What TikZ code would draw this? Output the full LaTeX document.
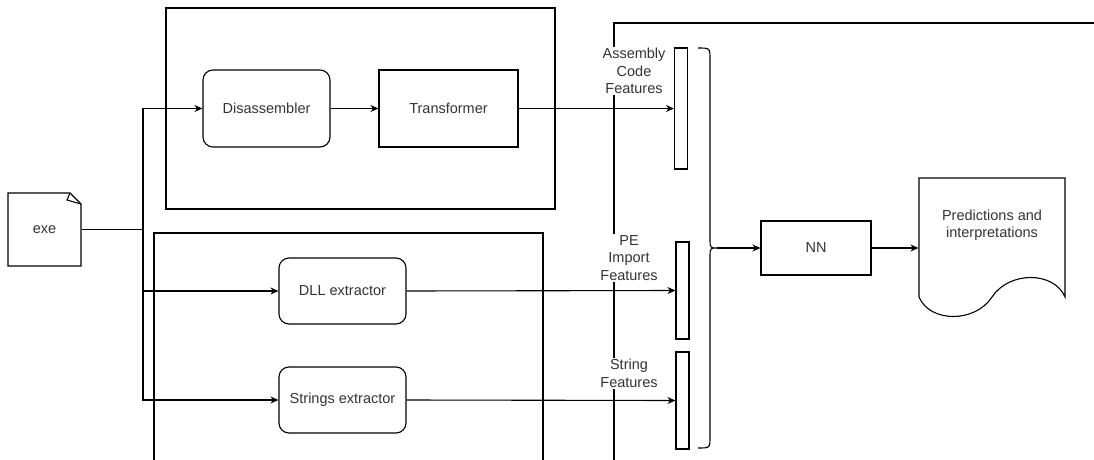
\documentclass[tikz,border=0pt]{standalone}
\usepackage{fontspec}
\setmainfont{Liberation Sans}
\usetikzlibrary{arrows.meta}
\begin{document}
\begin{tikzpicture}[x=1pt,y=-1pt,line width=1.1pt,
  every node/.style={font=\fontsize{14.5}{17.5}\selectfont, text=black!80},
  blk/.style={draw, rectangle, inner sep=0pt},
  rblk/.style={blk, rounded corners=10pt},
  bar/.style={draw, rectangle, inner sep=0pt, minimum width=13pt},
  lbl/.style={fill=white, align=center, inner sep=1pt},
  arr/.style={-{Stealth[length=8pt,width=7pt]}}]
\useasboundingbox (0,0) rectangle (1094,460);

% containers
\draw (166,8) rectangle (555,209);
\draw (154,460) -- (154,233) -- (543,233) -- (543,460);
\draw (614,460) -- (614,23) -- (1094,23);

% exe note
\node (exe) [minimum width=73pt, minimum height=73pt, inner sep=0pt] at (44.5,229.5) {exe};
\draw (8,193) -- (70,193) -- (81,204) -- (81,266) -- (8,266) -- cycle;
\draw (70,193) -- (67,200) -- (81,204);

% processing blocks
\node (dis) [rblk, minimum width=127pt, minimum height=77pt] at (266.5,108.5) {Disassembler};
\node (tra) [blk, minimum width=139pt, minimum height=77pt] at (448.5,108.5) {Transformer};
\node (dll) [rblk, minimum width=127pt, minimum height=66pt] at (342.5,291) {DLL extractor};
\node (str) [rblk, minimum width=127pt, minimum height=66pt] at (342.5,400) {Strings extractor};

% feature bars
\node (asm) [bar, minimum height=121pt] at (681,108.5) {};
\node (pe)  [bar, minimum height=97pt] at (682.5,290.5) {};
\node (sf)  [bar, minimum height=97pt] at (682.5,400.5) {};

% labels (white background interrupts the vertical line)
\node (lasm) [lbl] at (634,71) {Assembly\\Code\\Features};
\node (lpe)  [lbl] at (629,258) {PE\\Import\\Features};
\node (lsf)  [lbl] at (629,373.5) {String\\Features};

% NN and document
\node (nn) [blk, minimum width=110pt, minimum height=54pt] at (816,248) {NN};
\node (doc) [minimum width=146pt, minimum height=139pt, inner sep=0pt] at (992,248) {};
\draw (919,178) -- (1065,178) -- (1065,297)
  .. controls (1054,271) and (1009,271) .. (992,297)
  .. controls (975,323) and (930,323) .. (919,297) -- cycle;
\node (doctext) [align=center] at (992,225) {Predictions and\\interpretations};

% brace
\coordinate (tip) at (717,248);
\draw (698,48) .. controls (710,48) .. (710,60) -- (710,238)
  .. controls (710,248) .. (tip)
  .. controls (710,248) .. (710,258) -- (710,436)
  .. controls (710,448) .. (698,448);

% connectors
\coordinate (j) at (143,229.5);
\draw (exe.east) -- (j);
\draw[arr] (j) |- (dis.west);
\draw[arr] (j) |- (dll.west);
\draw[arr] (j) |- (str.west);
\draw[arr] (dis.east) -- (tra.west);
\draw[arr] (tra.east) -- (asm.west);
\draw[arr] (dll.east) -- (pe.west);
\draw[arr] (str.east) -- (sf.west);
\draw[arr] (tip) -- (nn.west);
\draw[arr] (nn.east) -- (doc.west);
\end{tikzpicture}
\end{document}
